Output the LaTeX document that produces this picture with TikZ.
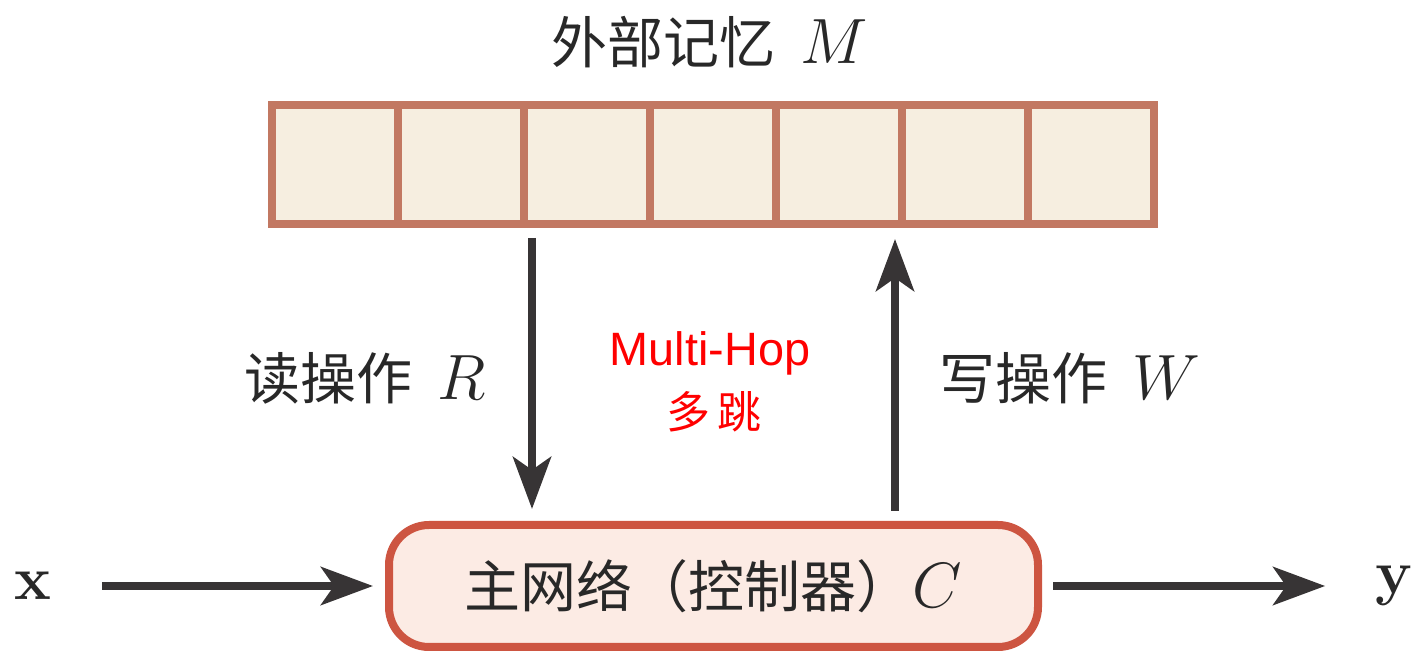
\RequirePackage{fix-cm}
\documentclass[tikz,border=0pt]{standalone}
\usepackage{fontspec}
\newfontfamily\cjk{Noto Sans CJK SC}
\newfontfamily\arial{Liberation Sans}
\usetikzlibrary{arrows.meta}
\definecolor{memline}{RGB}{194,120,98}
\definecolor{memfill}{RGB}{246,238,224}
\definecolor{ctrlline}{RGB}{205,85,65}
\definecolor{ctrlfill}{RGB}{252,235,228}
\definecolor{arrgray}{RGB}{55,52,53}
\definecolor{txtgray}{RGB}{40,40,40}
\newcommand\mymath[1]{{\fontsize{32}{34}\selectfont$#1$}}
\begin{document}
\begin{tikzpicture}[x=0.5pt,y=-0.5pt,
  cell/.style={draw=memline,fill=memfill,line width=4pt,minimum width=63pt,minimum height=59.5pt,inner sep=0pt},
  ctrlbox/.style={draw=ctrlline,fill=ctrlfill,line width=4pt,rounded corners=20pt,minimum width=324.5pt,minimum height=61pt,inner sep=0pt,text=txtgray,font=\fontsize{28}{30}\cjk},
  arr/.style={draw=arrgray,line width=4pt,-{Stealth[length=26pt,width=19pt,inset=6.5pt]}},
  lbl/.style={font=\fontsize{28}{30}\cjk,text=txtgray,inner sep=0pt},
  io/.style={font=\fontsize{31}{33}\selectfont\bfseries,text=txtgray,inner sep=0pt}]
\useasboundingbox (0,0) rectangle (1414,651);
\foreach \i in {1,...,7} \node[cell] (c\i) at ({272+126*(\i-0.5)},164.5) {};
\node[ctrlbox] (C) at (713.5,586) {主网络（控制器）\mymath{C}};
\node[lbl] (mlabel) at (710,42) {外部记忆\ \ \mymath{M}};
\node[lbl] (rlabel) at (365,378) {读操作\ \ \mymath{R}};
\node[lbl] (wlabel) at (1070,378) {写操作\ \ \mymath{W}};
\node[font=\fontsize{23.4}{25}\arial,text=red,inner sep=0pt] (hop) at (710,353) {Multi-Hop};
\node[font=\fontsize{22}{24}\cjk,text=red,inner sep=0pt] (hopcn) at (714,412) {多\,跳};
\node[io] (x) at (33,586) {x};
\node[io] (y) at (1394,586) {y};
\coordinate (rd) at ([xshift=-90.75pt]C.north);
\coordinate (wr) at ([xshift=90.75pt]C.north);
\draw[arr,shorten <=25pt,shorten >=6pt] (x) -- (C);
\draw[arr,shorten <=5.5pt,shorten >=25pt] (C) -- (y);
\draw[arr,shorten <=5pt,shorten >=6pt] (rd |- c3.south) -- (rd);
\draw[arr,shorten <=5pt,shorten >=5.5pt] (wr) -- (wr |- c6.south);
\end{tikzpicture}
\end{document}
